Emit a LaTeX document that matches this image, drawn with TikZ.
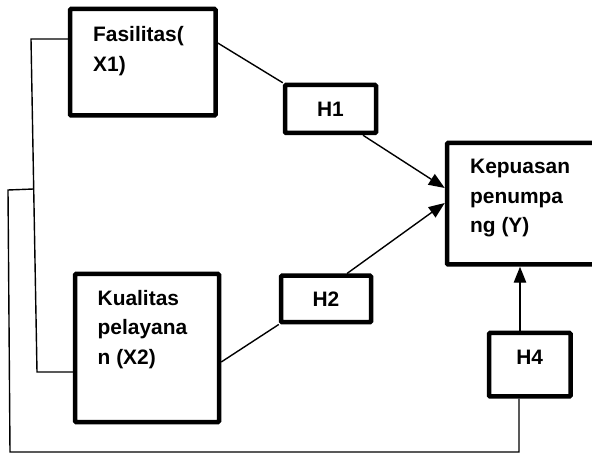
\documentclass[tikz,border=0pt]{standalone}
\usepackage{fontspec}
\setmainfont{Liberation Sans}
\usetikzlibrary{arrows.meta}
\begin{document}
\begin{tikzpicture}[x=1pt,y=-1pt,>={Triangle[length=16pt,width=12.5pt]},
        varbox/.style={draw,line width=4.5pt,rounded corners=1pt,inner sep=0pt},
        boxtext/.style={anchor=north west,align=left,inner sep=0pt,
          font=\fontsize{20.9}{29.5}\selectfont\bfseries},
        hyptext/.style={font=\fontsize{20.9}{29.5}\selectfont\bfseries},
        link/.style={line width=1.4pt}]
        \useasboundingbox (0,0) rectangle (592,454);
        % variables
        \node[varbox,minimum width=145.5pt,minimum height=106.5pt] (fas) at (142.75,62.25) {};
        \node[boxtext] (fastext) at (93,26.5) {Fasilitas(\\X1)};
        \node[varbox,minimum width=144pt,minimum height=148pt] (kual) at (147,348) {};
        \node[boxtext] (kualtext) at (97.5,290) {Kualitas\\pelayana\\n (X2)};
        \node[varbox,minimum width=153pt,minimum height=121.5pt] (kep) at (523.5,203.75) {};
        \node[boxtext] (keptext) at (470,159) {Kepuasan\\penumpa\\ng (Y)};
        % hypotheses
        \node[varbox,hyptext,minimum width=91pt,minimum height=48pt] (h1) at (330.5,109) {H1};
        \node[varbox,hyptext,minimum width=90pt,minimum height=46.5pt] (h2) at (326,299) {H2};
        \node[varbox,hyptext,text depth=14pt,minimum width=81.5pt,minimum height=63.5pt] (h4) at (529.75,364.75) {H4};
        % paths
        \draw[link] (fas.east |- 0,43) -- (h1.north west);
        \draw[link] (kual.east |- 0,362) -- (h2.south west);
        \draw[link,->] (h1.south -| 363,0) -- (kep.west |- 0,188);
        \draw[link,->] (h2.north -| 347,0) -- (kep.west |- 0,203);
        \draw[link,->] (h4.north -| 520,0) -- (kep.south -| 520,0);
        \coordinate (top) at (31,39);
        \coordinate (split) at (33.7,189);
        \draw[link] (fas.west |- top) -- (top) -- (37,372) coordinate (bend) -- (kual.west |- bend);
        \draw[link] (split) -- (8,190) -- (10,452) -- (519,452) coordinate (corner) -- (h4.south -| corner);
\end{tikzpicture}
\end{document}
